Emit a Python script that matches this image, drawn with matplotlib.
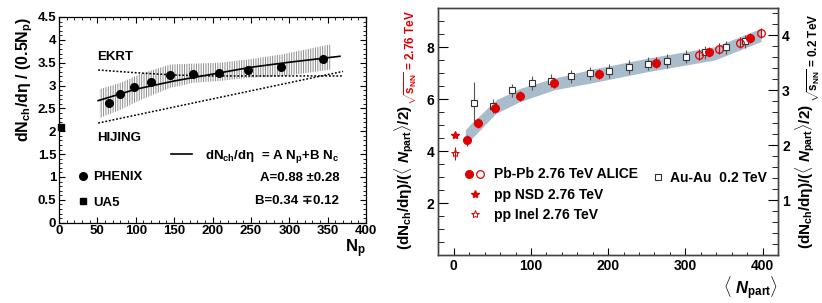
import matplotlib
matplotlib.use("Agg")
import matplotlib.pyplot as plt
from matplotlib.lines import Line2D
from matplotlib.legend_handler import HandlerTuple
from matplotlib.ticker import MultipleLocator

# ---- left panel: dNch/deta / (0.5 Np) vs Np
phenix_np = [65, 80, 98, 120, 145, 174, 208, 246, 289, 344]
phenix_y = [2.62, 2.82, 2.97, 3.08, 3.22, 3.25, 3.27, 3.33, 3.41, 3.59]
ua5_np = [2]
ua5_y = [2.1]
# systematic band (hatched)
sys_np = [53, 80, 107, 145, 175, 209, 246, 290, 354]
sys_lo = [2.29, 2.47, 2.69, 2.95, 3.06, 3.10, 3.17, 3.20, 3.35]
sys_hi = [2.92, 3.06, 3.26, 3.46, 3.48, 3.50, 3.57, 3.68, 3.90]
# fit A Np + B Nc
fit_np = [51, 100, 150, 200, 250, 300, 366]
fit_y = [2.67, 2.92, 3.10, 3.25, 3.40, 3.51, 3.64]
ekrt_np = [51, 100, 150, 200, 370]
ekrt_y = [3.34, 3.28, 3.23, 3.21, 3.21]
hijing_np = [51, 370]
hijing_y = [2.18, 3.31]

# ---- right panel: (dNch/deta)/(<Npart>/2) vs <Npart>
alice_np = [17, 32, 54, 86, 130, 188, 262, 330, 384]
alice_y = [4.41, 5.08, 5.67, 6.12, 6.62, 6.98, 7.41, 7.82, 8.35]
alice_err = [0.2, 0.2, 0.2, 0.2, 0.2, 0.2, 0.2, 0.2, 0.2]
alice2_np = [318, 343, 371, 398]
alice2_y = [7.72, 7.95, 8.18, 8.54]
alice2_err = [0.2, 0.2, 0.2, 0.2]
auau_np = [26, 51, 76, 101, 126, 152, 176, 201, 227, 251, 276, 301, 326, 352, 377]
auau_y = [2.76, 2.71, 3.00, 3.13, 3.17, 3.25, 3.31, 3.35, 3.42, 3.48, 3.53, 3.61, 3.69, 3.78, 3.89]
auau_err = [0.39, 0.13, 0.12, 0.12, 0.12, 0.12, 0.12, 0.12, 0.12, 0.12, 0.12, 0.12, 0.12, 0.12, 0.12]
ppnsd_np = [2]
ppnsd_y = [4.63]
ppinel_np = [2]
ppinel_y = [3.92]
ppinel_err = [0.25]
band_np = [15, 22, 32, 55, 86, 130, 177, 251, 338, 398]
band_lo = [4.24, 4.45, 4.75, 5.46, 5.91, 6.36, 6.62, 7.06, 7.51, 8.22]
band_hi = [4.82, 5.05, 5.33, 5.97, 6.42, 6.81, 7.14, 7.58, 8.02, 8.73]

RED = "#e00000"
BAND = "#a9bccb"

plt.rcParams["font.family"] = ["Liberation Sans", "DejaVu Sans"]
plt.rcParams["font.weight"] = "bold"
plt.rcParams["axes.labelweight"] = "bold"
plt.rcParams["mathtext.fontset"] = "custom"
plt.rcParams["mathtext.rm"] = "Liberation Sans:weight=bold"
plt.rcParams["mathtext.bf"] = "Liberation Sans:weight=bold"
plt.rcParams["mathtext.it"] = "Liberation Sans:style=italic:weight=bold"
plt.rcParams["mathtext.default"] = "rm"
plt.rcParams["hatch.linewidth"] = 0.7


def bold_ticks(a):
    for t in a.get_xticklabels() + a.get_yticklabels():
        t.set_fontweight("bold")


def main():
    fig = plt.figure(figsize=(8.22, 3.03), dpi=100)

    # ================= left panel
    ax = fig.add_axes([0.0718, 0.265, 0.3735, 0.679])
    ax.fill_between(sys_np, sys_lo, sys_hi, facecolor="none", edgecolor="#8c8c8c",
                    hatch="|" * 7, linewidth=0)
    ax.plot(fit_np, fit_y, color="black", lw=1.2)
    ax.plot(ekrt_np, ekrt_y, color="black", lw=1.1, ls=(0, (1.2, 1.2)))
    ax.plot(hijing_np, hijing_y, color="black", lw=1.1, ls=(0, (1.2, 1.2)))
    ax.plot(phenix_np, phenix_y, "o", color="black", ms=5.5, zorder=5)
    ax.plot(ua5_np, ua5_y, "s", color="black", ms=5, zorder=5, clip_on=False)

    ax.set_xlim(0, 400)
    ax.set_ylim(0, 4.5)
    ax.xaxis.set_major_locator(MultipleLocator(50))
    ax.xaxis.set_minor_locator(MultipleLocator(10))
    ax.yaxis.set_minor_locator(MultipleLocator(0.1))
    ax.set_yticks([0, 0.5, 1, 1.5, 2, 2.5, 3, 3.5, 4, 4.5])
    ax.set_yticklabels(["0", "0.5", "1", "1.5", "2", "2.5", "3", "3.5", "4", "4.5"])
    ax.tick_params(which="both", direction="in", top=True, right=True, labelsize=9.5)
    ax.tick_params(which="major", length=4, pad=2)
    ax.tick_params(which="minor", length=2.2)
    bold_ticks(ax)
    for s in ax.spines.values():
        s.set_linewidth(0.9)

    ax.set_ylabel("dN$_{ch}$/dη / (0.5N$_{p}$)", fontsize=11.5, loc="top", labelpad=2)
    ax.set_xlabel("N$_{p}$", fontsize=12, loc="right", labelpad=0)

    ax.text(49, 3.63, "EKRT", fontsize=9.5, va="center")
    ax.text(49, 1.86, "HIJING", fontsize=9.5, va="center")
    ax.text(365, 0.97, "A=0.88 ±0.28", fontsize=9.5, va="center", ha="right")
    ax.text(365, 0.48, "B=0.34 ∓0.12", fontsize=9.5, va="center", ha="right")

    fit_h = Line2D([], [], color="black", lw=1.2)
    leg1 = ax.legend([fit_h], ["dN$_{ch}$/dη  = A N$_{p}$+B N$_{c}$"], loc="center left",
                     bbox_to_anchor=(0.365, 0.321), frameon=False,
                     prop={"size": 9.5, "weight": "bold"},
                     handlelength=1.6, handletextpad=1.0, borderpad=0, borderaxespad=0)
    ax.add_artist(leg1)
    ph_h = Line2D([], [], marker="o", ls="none", color="black", ms=5.5)
    ua_h = Line2D([], [], marker="s", ls="none", color="black", ms=5)
    ax.legend([ph_h, ua_h], ["PHENIX", "UA5"], loc="center left",
              bbox_to_anchor=(0.055, 0.16), frameon=False, prop={"size": 9.5, "weight": "bold"},
              handlelength=1.0, handletextpad=0.3, borderpad=0, borderaxespad=0,
              labelspacing=1.0)

    # ================= right panel
    bx = fig.add_axes([0.5332, 0.1584, 0.4133, 0.8142])
    bx.fill_between(band_np, band_lo, band_hi, color=BAND, lw=0, zorder=1)
    bx.errorbar(ppinel_np, ppinel_y, yerr=ppinel_err, fmt="*", mfc="none", mec=RED,
                ecolor=RED, ms=6, mew=0.7, elinewidth=0.8, capsize=0, zorder=4, clip_on=False)
    bx.plot(ppnsd_np, ppnsd_y, "*", color=RED, ms=6, zorder=4)

    bx.set_xlim(-20, 420)
    bx.set_ylim(0, 9.5)
    bx.xaxis.set_major_locator(MultipleLocator(100))
    bx.xaxis.set_minor_locator(MultipleLocator(20))
    bx.set_yticks([2, 4, 6, 8])
    bx.yaxis.set_minor_locator(MultipleLocator(0.5))
    bx.tick_params(which="both", direction="in", labelsize=10)
    bx.tick_params(axis="y", which="major", length=7, pad=3)
    bx.tick_params(axis="y", which="minor", length=4.5)
    bx.tick_params(axis="x", which="major", length=5, pad=3)
    bx.tick_params(axis="x", which="minor", length=2.5)
    bold_ticks(bx)
    for s in bx.spines.values():
        s.set_linewidth(1.0)
        s.set_color("#444444")

    # Au-Au on its own (right) scale, drawn under the ALICE points
    bx2 = bx.twinx()
    bx2.errorbar(auau_np, auau_y, yerr=auau_err, fmt="s", mfc="white", mec="#333333",
                 ecolor="#555555", ms=4.3, mew=0.8, elinewidth=0.8, capsize=0, zorder=3)
    bx2.set_ylim(0, 4.49)
    bx2.set_yticks([1, 2, 3, 4])
    bx2.yaxis.set_minor_locator(MultipleLocator(0.2))
    bx2.tick_params(which="both", direction="in", labelsize=10)
    bx2.tick_params(which="major", length=7, pad=3)
    bx2.tick_params(which="minor", length=4.5)
    bold_ticks(bx2)
    for s in bx2.spines.values():
        s.set_linewidth(1.0)
        s.set_color("#444444")

    # ALICE points on top of the twin axis
    bx3 = bx.twinx()
    bx3.set_ylim(0, 9.5)
    bx3.axis("off")
    bx3.errorbar(alice_np, alice_y, yerr=alice_err, fmt="o", color=RED, ms=5.5,
                 elinewidth=0.8, capsize=0, zorder=4)
    bx3.errorbar(alice2_np, alice2_y, yerr=alice2_err, fmt="o", mfc="none", mec=RED,
                 ecolor=RED, ms=5.5, mew=0.9, elinewidth=0.8, capsize=0, zorder=4)

    ylab = "(dN$_{ch}$/dη)/($\\langle$ $\\mathit{N}_{part}$$\\rangle$/2)"
    bx.text(-0.101, 0.315, ylab, transform=bx.transAxes, rotation=90, fontsize=11,
            ha="center", va="center")
    bx.text(-0.083, 0.8, "$\\sqrt{s_{NN}}$ = 2.76 TeV", transform=bx.transAxes,
            rotation=90, fontsize=8.5, color=RED, ha="center", va="center")
    bx.text(1.0795, 0.319, ylab, transform=bx.transAxes, rotation=90, fontsize=11,
            ha="center", va="center")
    bx.text(1.104, 0.8, "$\\sqrt{s_{NN}}$ = 0.2 TeV", transform=bx.transAxes,
            rotation=90, fontsize=8.5, color="black", ha="center", va="center")
    bx.set_xlabel("$\\langle$ $\\mathit{N}_{part}$$\\rangle$", fontsize=12, loc="right",
                  labelpad=1)

    f_h = Line2D([], [], marker="o", ls="none", color=RED, ms=5.5)
    o_h = Line2D([], [], marker="o", ls="none", mfc="none", mec=RED, ms=5.5, mew=0.9)
    s1_h = Line2D([], [], marker="*", ls="none", color=RED, ms=6)
    s2_h = Line2D([], [], marker="*", ls="none", mfc="none", mec=RED, ms=6, mew=0.7)
    leg2 = bx3.legend([(f_h, o_h), s1_h, s2_h],
                      ["Pb-Pb 2.76 TeV ALICE", "pp NSD 2.76 TeV", "pp Inel 2.76 TeV"],
                      handler_map={tuple: HandlerTuple(ndivide=None, pad=0)},
                      loc="upper left", bbox_to_anchor=(0.075, 0.355), frameon=False,
                      prop={"size": 10, "weight": "bold"}, handlelength=1.6,
                      handletextpad=0.6, borderpad=0, borderaxespad=0, labelspacing=0.45)
    bx3.add_artist(leg2)
    sq_h = Line2D([], [], marker="s", ls="none", mfc="white", mec="#333333", ms=4.3, mew=0.8)
    bx3.legend([sq_h], ["Au-Au  0.2 TeV"], loc="center left", bbox_to_anchor=(0.63, 0.314),
               frameon=False, prop={"size": 10, "weight": "bold"}, handlelength=0.8,
               handletextpad=0.5, borderpad=0, borderaxespad=0)

    fig.savefig("out.png", dpi=100)


if __name__ == "__main__":
    main()
